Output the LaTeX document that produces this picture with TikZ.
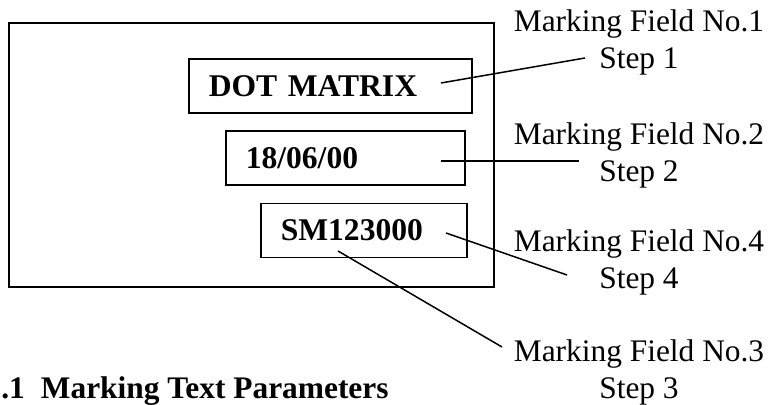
\documentclass[tikz,border=0pt]{standalone}
\usepackage{fontspec}
\setmainfont{Liberation Serif}
\usepackage{tikz}

\tikzset{
  field/.style={draw, line width=0.75pt, anchor=west, minimum height=27pt,
    inner xsep=10pt, inner ysep=0pt, align=left,
    font=\fontsize{15.8}{19}\selectfont\bfseries},
  marklabel/.style={align=center, inner sep=0pt,
    font=\fontsize{15.7}{18.5}\selectfont},
  leader/.style={line width=0.75pt},
  panel/.style={draw, line width=1pt}
}

\begin{document}
\begin{tikzpicture}[x=0.5pt, y=-0.5pt]
  \useasboundingbox (0,0) rectangle (771,405);
  % outer frame
  \draw[panel] (9,23) rectangle (494,287);
  % marking fields
  \node[field, text width=121.5pt] (dotmatrix) at (188,86) {DOT MATRIX};
  \node[field, text width=99.5pt] (date) at (225,158) {18/06/00};
  \node[field, text width=83pt] (serial) at (260,230.5) {SM123000};
  % labels on the right
  \node[marklabel] (field1) at (639,42) {Marking Field No.1\\Step 1};
  \node[marklabel] (field2) at (639,155) {Marking Field No.2\\Step 2};
  \node[marklabel] (field4) at (639,262) {Marking Field No.4\\Step 4};
  \node[marklabel] (field3) at (639,372) {Marking Field No.3\\Step 3};
  % leader end points
  \coordinate (dotStart) at (441,83);
  \coordinate (dotEnd) at (585,58);
  \coordinate (dateStart) at (441,161);
  \coordinate (dateEnd) at (579,161);
  \coordinate (serialStart) at (446,233);
  \coordinate (serialEnd) at (567,275);
  \coordinate (smStart) at (338,251);
  \coordinate (smEnd) at (502,347);
  \draw[leader] (dotStart) -- (dotEnd);
  \draw[leader] (dateStart) -- (dateEnd);
  \draw[leader] (serialStart) -- (serialEnd);
  \draw[leader] (smStart) -- (smEnd);
  % heading
  \node[anchor=base west, inner sep=0pt,
    font=\fontsize{15.7}{19}\selectfont\bfseries] (heading) at (1,399)
    {.1\hspace{8pt}Marking Text Parameters};
\end{tikzpicture}
\end{document}
